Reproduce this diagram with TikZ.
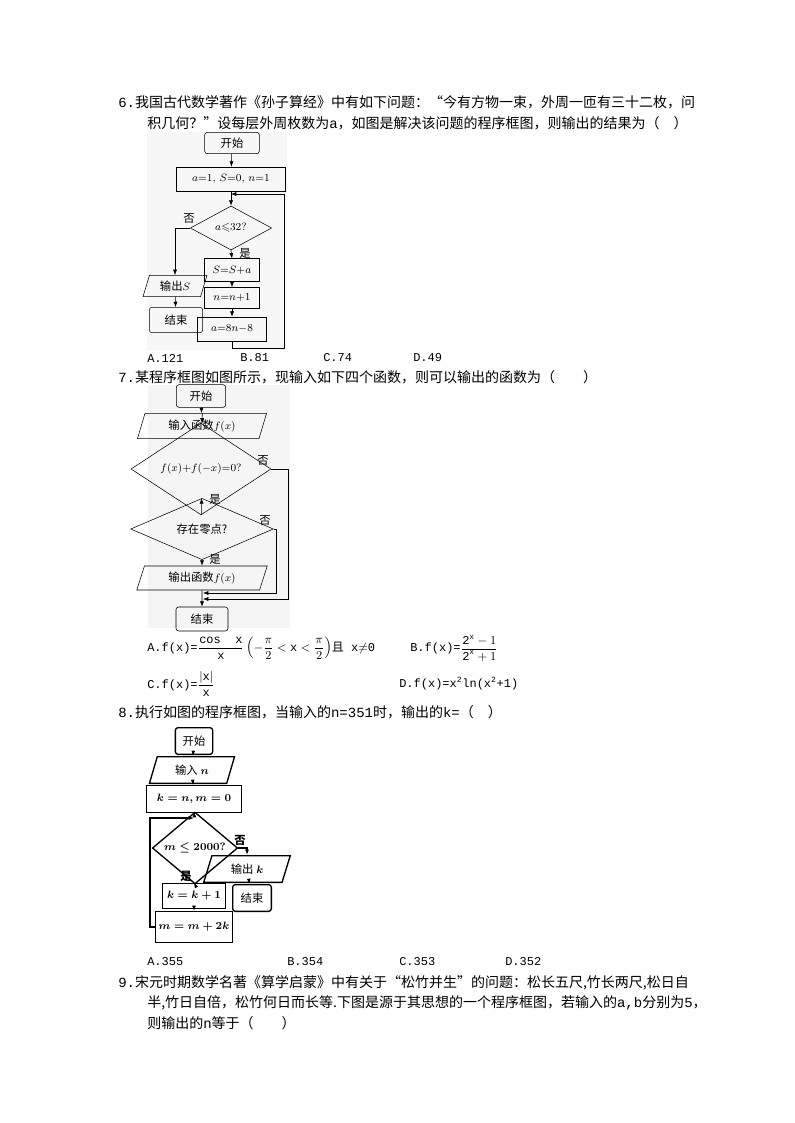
\documentclass[tikz,border=0pt]{standalone}
\usepackage{amsmath,amssymb}
\usepackage{fontspec}
\setmainfont{Liberation Serif}
\newfontfamily\cjk{Noto Sans CJK SC}
\newfontfamily\mono{Liberation Mono}
\usetikzlibrary{shapes.geometric,arrows.meta}
\begin{document}
\begin{tikzpicture}[x=0.75pt,y=-0.75pt,
  qtext/.style={anchor=west,inner sep=0,font=\fontsize{10.5}{12}\cjk},
  ch/.style={font=\fontsize{8.5}{10}\selectfont},
  pbox/.style={draw,rectangle,inner sep=0,ch},
  rbox/.style={draw,rectangle,rounded corners=2pt,inner sep=0,ch},
  pgram/.style={draw,trapezium,trapezium left angle=70,trapezium right angle=110,trapezium stretches=true,inner sep=0,ch},
  dia/.style={draw,diamond,inner sep=0,ch},
  arr/.style={-{Latex[length=4pt,width=3pt]}},
  lab/.style={ch,inner sep=0},
  thick8/.style={line width=1pt}]
\useasboundingbox (0,0) rectangle (794,1123);
\fill[white] (0,0) rectangle (794,1123);
% ---------- Q6 ----------
\node[qtext] (q6a) at (118,102) {{\mono 6.}我国古代数学著作《孙子算经》中有如下问题：“今有方物一束，外周一匝有三十二枚，问};
\node[qtext] (q6b) at (147,123) {积几何？”设每层外周枚数为{\mono a}，如图是解决该问题的程序框图，则输出的结果为（\quad ）};
\fill[gray!6] (147,132) rectangle (287,350);
\node[rbox,minimum width=41,minimum height=16] (s6) at (232,143) {\cjk 开始};
\node[pbox,minimum width=82,minimum height=18] (i6) at (231,179) {$a{=}1,\,S{=}0,\,n{=}1$};
\coordinate (j6) at (231,194);
\node[dia,minimum width=61,minimum height=33] (d6) at (231,228) {$a{\leqslant}32?$};
\node[pgram,minimum width=48,minimum height=16] (o6) at (175,286) {{\cjk 输出}$S$};
\node[rbox,minimum width=40,minimum height=19] (e6) at (176,320) {\cjk 结束};
\node[pbox,minimum width=41,minimum height=17] (b61) at (232,270) {$S{=}S{+}a$};
\node[pbox,minimum width=41,minimum height=16] (b62) at (232,298) {$n{=}n{+}1$};
\node[pbox,minimum width=52,minimum height=18] (b63) at (232,329) {$a{=}8n{-}8$};
\draw[arr] (s6) -- (i6);
\draw[arr] (i6) -- (d6);
\draw[arr] (d6.west) -| (o6.north);
\node[lab] (n6) at (189,219) {\cjk 否};
\draw[arr] (o6) -- (e6);
\draw[arr] (d6.south) -- (b61.north);
\node[lab] (y6) at (245,253) {\cjk 是};
\draw[arr] (b61) -- (b62);
\draw[arr] (b62) -- (b63);
\coordinate (c61) at (284,348);
\coordinate (c62) at (284,194);
\draw[arr] (b63.south) |- (c61) -- (c62) -- (j6);
\node[anchor=west,inner sep=0,font=\fontsize{9}{10}\mono] (a6) at (147,358) {A.121};
\node[anchor=west,inner sep=0,font=\fontsize{9}{10}\mono] (b6) at (240,358) {B.81};
\node[anchor=west,inner sep=0,font=\fontsize{9}{10}\mono] (cc6) at (323,358) {C.74};
\node[anchor=west,inner sep=0,font=\fontsize{9}{10}\mono] (dd6) at (413,358) {D.49};
% ---------- Q7 ----------
\node[qtext] (q7) at (118,377) {{\mono 7.}某程序框图如图所示，现输入如下四个函数，则可以输出的函数为（\qquad ）};
\fill[gray!8] (148,385) rectangle (290,628);
\node[rbox,minimum width=37,minimum height=17] (s7) at (201,396) {\cjk 开始};
\node[pgram,minimum width=97,minimum height=19] (i7) at (202,426) {{\cjk 输入函数}$f(x)$};
\node[dia,minimum width=105,minimum height=48] (d71) at (201,469) {$f(x){+}f({-}x){=}0?$};
\node[dia,minimum width=107,minimum height=46] (d72) at (202,529) {\cjk 存在零点?};
\node[pgram,minimum width=98,minimum height=18] (o7) at (202,578) {{\cjk 输出函数}$f(x)$};
\node[rbox,minimum width=39,minimum height=18] (e7) at (202,619) {\cjk 结束};
\draw[arr] (s7) -- (i7);
\draw[arr] (i7) -- (d71);
\draw[arr] (d71) -- (d72);
\node[lab] (y71) at (215,499) {\cjk 是};
\draw[arr] (d72) -- (o7);
\node[lab] (y72) at (215,559) {\cjk 是};
\draw[arr] (o7) -- (e7);
\coordinate (r71) at (288,599); \coordinate (j71) at (203,599);
\coordinate (r72) at (276,593); \coordinate (j72) at (203,593);
\draw[arr] (d71.east) -| (r71) -- (j71);
\draw[arr] (d72.east) -| (r72) -- (j72);
\node[lab] (n71) at (263,461) {\cjk 否};
\node[lab] (n72) at (265,521) {\cjk 否};
\node[anchor=west,inner sep=0,font=\fontsize{9}{10}\mono] (a7) at (147,648) {A.f(x)=$\dfrac{\text{\mono cos\ \ x}}{\text{\mono x}}\left(-\dfrac{\pi}{2}<\text{\mono x}<\dfrac{\pi}{2}\right)${\cjk 且} x$\neq$0};
\node[anchor=west,inner sep=0,font=\fontsize{9}{10}\mono] (b7) at (410,648) {B.f(x)=$\dfrac{\text{\mono 2\textsuperscript{x}}-1}{\text{\mono 2\textsuperscript{x}}+1}$};
\node[anchor=west,inner sep=0,font=\fontsize{9}{10}\mono] (c7) at (147,684) {C.f(x)=$\dfrac{|\text{\mono x}|}{\text{\mono x}}$};
\node[anchor=west,inner sep=0,font=\fontsize{9}{10}\mono] (d7) at (399,684) {D.f(x)=x\textsuperscript{2}ln(x\textsuperscript{2}+1)};
% ---------- Q8 ----------
\node[qtext] (q8) at (118,712) {{\mono 8.}执行如图的程序框图，当输入的{\mono n=351}时，输出的{\mono k=}（\quad ）};
\begin{scope}[every node/.append style={thick8,font=\fontsize{8.5}{10}\bfseries}]
\node[rbox,minimum width=28,minimum height=20] (s8) at (194,741) {\cjk 开始};
\node[pgram,minimum width=64,minimum height=20] (i8) at (192,770) {{\cjk 输入} $\boldsymbol{n}$};
\node[pbox,minimum width=71,minimum height=20] (b81) at (194,799) {$\boldsymbol{k=n,m=0}$};
\node[dia,minimum width=64,minimum height=39] (d8) at (195,848) {$\boldsymbol{m\le2000?}$};
\node[pgram,minimum width=65,minimum height=20] (o8) at (247,869) {{\cjk 输出} $\boldsymbol{k}$};
\node[rbox,minimum width=29,minimum height=20] (e8) at (252,898) {\cjk 结束};
\node[pbox,minimum width=47,minimum height=19] (b82) at (194,896) {$\boldsymbol{k=k+1}$};
\node[pbox,minimum width=58,minimum height=23] (b83) at (194,927) {$\boldsymbol{m=m+2k}$};
\end{scope}
\coordinate (j8) at (194,818);
\coordinate (l8a) at (150,927);
\coordinate (l8b) at (150,818);
\begin{scope}[thick8]
\draw[arr] (s8) -- (i8);
\draw[arr] (i8) -- (b81);
\draw[arr] (b81) -- (d8);
\draw[arr] (d8.east) -| (o8.north);
\draw[arr] (o8) -- (e8);
\draw[arr] (d8.south) -- (b82.north);
\draw[arr] (b82) -- (b83);
\draw[arr] (b83.west) -- (l8a) -- (l8b) -- (j8);
\end{scope}
\node[lab,font=\fontsize{8.5}{10}\cjk\bfseries] (n8) at (240,840) {否};
\node[lab,font=\fontsize{8.5}{10}\cjk\bfseries] (y8) at (186,876) {是};
\node[anchor=west,inner sep=0,font=\fontsize{9}{10}\mono] (a8) at (147,962) {A.355};
\node[anchor=west,inner sep=0,font=\fontsize{9}{10}\mono] (bb8) at (287,962) {B.354};
\node[anchor=west,inner sep=0,font=\fontsize{9}{10}\mono] (cc8) at (399,962) {C.353};
\node[anchor=west,inner sep=0,font=\fontsize{9}{10}\mono] (dd8) at (505,962) {D.352};
% ---------- Q9 ----------
\node[qtext] (q9a) at (118,983) {{\mono 9.}宋元时期数学名著《算学启蒙》中有关于“松竹并生”的问题：松长五尺,竹长两尺,松日自};
\node[qtext] (q9b) at (147,1003) {半,竹日自倍，松竹何日而长等.下图是源于其思想的一个程序框图，若输入的{\mono a,b}分别为{\mono 5}，};
\node[qtext] (q9c) at (147,1023) {则输出的{\mono n}等于（\qquad ）};
\end{tikzpicture}
\end{document}
